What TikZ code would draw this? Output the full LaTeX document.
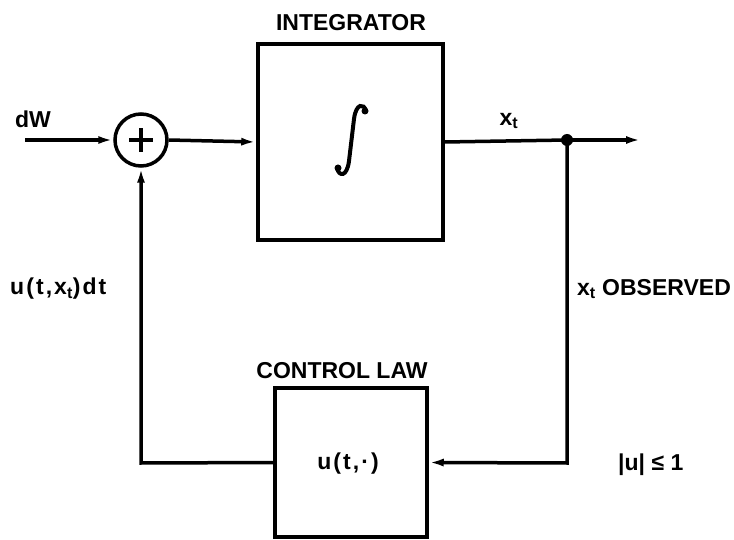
\documentclass[tikz,border=0pt]{standalone}
\usepackage{fontspec}
\setmainfont{Liberation Sans}
\usetikzlibrary{arrows.meta}
\begin{document}
\begin{tikzpicture}[x=1pt,y=-1pt,
  lbl/.style={font=\fontsize{23}{26}\selectfont\bfseries, inner sep=0pt},
  wlbl/.style={lbl, font=\fontsize{23}{26}\selectfont\bfseries\addfontfeature{LetterSpace=9}},
  blk/.style={draw, line width=3.5pt, inner sep=0pt},
  wire/.style={line width=3.5pt},
  arr/.style={wire, -{Latex[length=15pt,width=8pt]}},
]
\useasboundingbox (0,0) rectangle (734,540);
% blocks
\node[blk, minimum width=185pt, minimum height=196pt] (int) at (350.5,142) {};
\node[blk, minimum width=152pt, minimum height=149pt] (ctl) at (351,462.5) {};
\node[draw, circle, line width=3.5pt, minimum size=52pt, inner sep=0pt] (sum) at (141,140) {};
\draw[line width=4pt] ([yshift=-12pt]sum.center) -- ([yshift=12pt]sum.center)
  ([xshift=-12pt]sum.center) -- ([xshift=12pt]sum.center);
% integral sign
\draw[line width=4pt, line cap=round]
  (337,168) .. controls (339,177) and (347,177) .. (349,161)
  -- (354,119) .. controls (356,103) and (364,103) .. (366,111);
\fill (338,168) circle (3.5pt) (365,111) circle (3.5pt);
% labels
\node[lbl] (tint) at (351,23) {INTEGRATOR};
\node[lbl] (tctl) at (342,371) {CONTROL LAW};
\node[lbl] (tin) at (33,119) {dW};
\node[wlbl] (tx) at (509,121) {x\textsubscript{t}};
\node[lbl, anchor=west] (tobs) at (577,289) {x\textsubscript{t} OBSERVED};
\node[wlbl, anchor=west] (tu) at (10,289) {u(t,x\textsubscript{t})dt};
\node[lbl, anchor=west] (tbound) at (618,465) {|u| ≤ 1};
\node[wlbl] (tlaw) at (348,464) {u(t,·)};
% coordinates
\coordinate (in) at (25,140);
\coordinate (jn) at (567,140);
\coordinate (out) at (641,140);
\coordinate (br) at (567,463);
\coordinate (bl) at (141,463);
% connectors
\draw[arr] (in) -- (sum.west);
\draw[arr] (sum.east) -- (int.west);
\draw[wire] (int.east) -- (jn);
\draw[arr] (jn) -- (out);
\fill (jn) circle (6pt);
\draw[arr] (jn) -- (br) -- (ctl.east);
\draw[arr] (ctl.west) -- (bl) -- (sum.south);
\end{tikzpicture}
\end{document}
